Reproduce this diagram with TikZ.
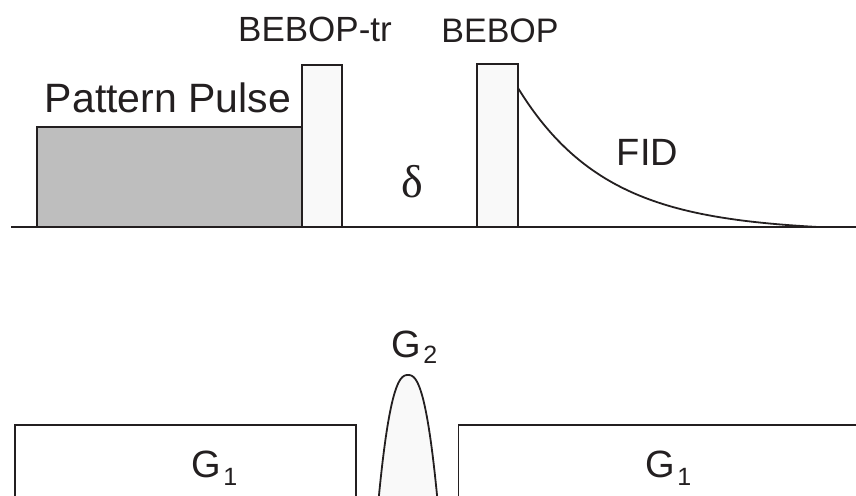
\documentclass[tikz,border=0pt]{standalone}
\usepackage{fontspec}
\setmainfont{Liberation Sans}
\newfontfamily\greekfont{Liberation Serif}
\definecolor{ink}{HTML}{231F20}
\definecolor{patfill}{HTML}{BEBEBE}
\definecolor{pulsefill}{HTML}{F9F9F9}
\tikzset{
  seq/.style={draw=ink, line width=1.8pt, line join=miter},
  lbl/.style={inner sep=0pt, anchor=base, text=ink},
  lblw/.style={inner sep=0pt, anchor=base west, text=ink},
}
\newcommand{\gradlabel}[2]{G\hspace{2.5pt}\raisebox{#2}{\fontsize{25}{25}\selectfont #1}}
\begin{document}
\begin{tikzpicture}[x=1pt, y=-1pt]
\useasboundingbox (0,0) rectangle (856,495);
\clip (0,0) rectangle (856,495);

% RF channel: pulses
\path[seq, fill=patfill] (36.7,227) rectangle (301.7,127);
\path[seq, fill=pulsefill] (301.7,227) rectangle (341.7,65);
\path[seq, fill=pulsefill] (477,227) rectangle (518,64);
% free induction decay, normalised so that it lands on the baseline
\draw[seq, line join=round] plot[domain=518:818, samples=150, smooth]
  (\x, {227-139*(exp(-(\x-518)/88)-exp(-300/88))/(1-exp(-300/88))});
% RF baseline
\draw[seq] (11,227) -- (856,227);

% RF labels
\node[lbl, font=\fontsize{35}{35}\selectfont] (bebtr) at (315,41.7) {BEBOP-tr};
\node[lbl, font=\fontsize{34}{34}\selectfont] (beb) at (500,42.3) {BEBOP};
\node[lbl, font=\fontsize{41}{41}\selectfont] (pat) at (168,112.3) {Pattern Pulse};
\node[lbl, font=\fontsize{38}{38}\selectfont] (fid) at (647.5,165) {FID};
\node[lbl, font=\fontsize{46}{46}\greekfont] (delta) at (412.5,197) {δ};

% gradient channel
\path[seq, fill=white] (15,520) -- (15,425) -- (356,425) -- (356,520);
\path[seq, fill=white] (870,425) -- (458.5,425) -- (458.5,520);
\path[seq, fill=pulsefill] plot[domain=-1.1:1.1, samples=99, smooth]
  ({408+29*\x}, {375+120*pow(abs(\x),2.46)});

% gradient labels
\node[lblw, font=\fontsize{38}{38}\selectfont] (g1a) at (191,477) {\gradlabel{1}{-8pt}};
\node[lblw, font=\fontsize{38}{38}\selectfont] (g1b) at (645,477) {\gradlabel{1}{-8pt}};
\node[lblw, font=\fontsize{38}{38}\selectfont] (g2) at (391,357.7) {\gradlabel{2}{-5.3pt}};
\end{tikzpicture}
\end{document}
